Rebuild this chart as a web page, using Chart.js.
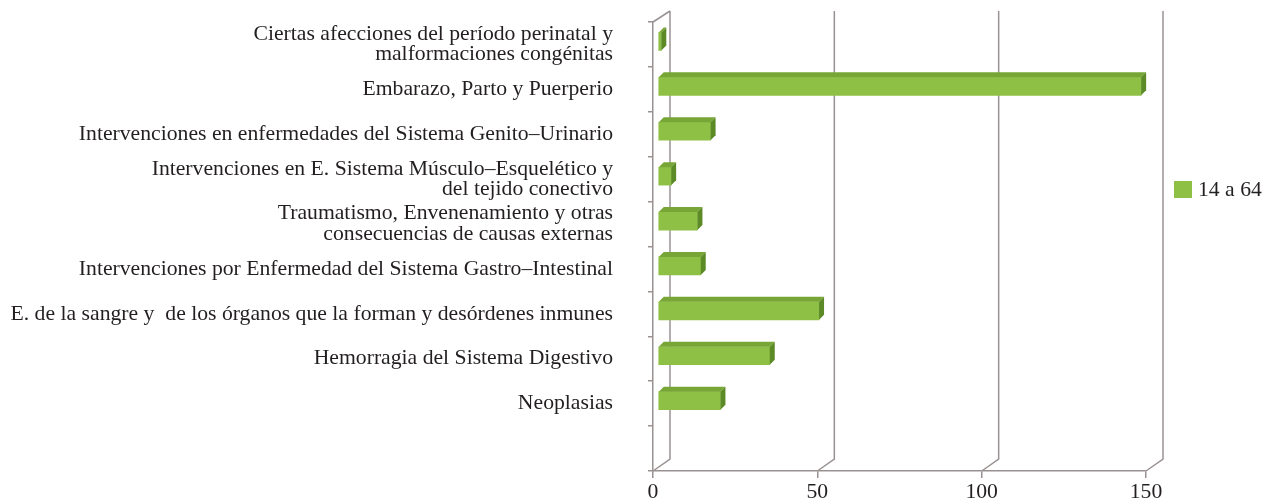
<!DOCTYPE html>
<html>
<head>
<meta charset="utf-8">
<script src="https://cdn.jsdelivr.net/npm/chart.js@4/dist/chart.umd.min.js"></script>
<style>
  html, body { margin: 0; padding: 0; background: #fff; }
  #wrap { width: 1271px; height: 504px; }
</style>
</head>
<body>
<div id="wrap"><canvas id="barChart"></canvas></div>
<script>
// categorias (de arriba a abajo), la ultima fila queda vacia
const categories = [
  ['Ciertas afecciones del período perinatal y', 'malformaciones congénitas'],
  'Embarazo, Parto y Puerperio',
  'Intervenciones en enfermedades del Sistema Genito–Urinario',
  ['Intervenciones en E. Sistema Músculo–Esquelético y', 'del tejido conectivo'],
  ['Traumatismo, Envenenamiento y otras', 'consecuencias de causas externas'],
  'Intervenciones por Enfermedad del Sistema Gastro–Intestinal',
  'E. de la sangre y  de los órganos que la forman y desórdenes inmunes',
  'Hemorragia del Sistema Digestivo',
  'Neoplasias',
  ''
];
const values = [1, 147, 16, 4, 12, 13, 49, 34, 19, null];
const xTicks = [0, 50, 100, 150];
const seriesName = '14 a 64';

const green = '#8fc046';
const greenTop = '#77a637';
const greenSide = '#5b8a26';
const lineGray = '#9a9292';
const textColor = '#231f20';
const font = { family: "'Liberation Serif', 'DejaVu Serif', serif", size: 21.7, lineHeight: 0.95 };

// fondo 3D: lineas de la pared trasera y barras con cara superior/lateral
const depthX = 17, depthY = 12;   // pared trasera
const barDX = 5, barDY = 5;       // profundidad de barra
const fake3d = {
  id: 'fake3d',
  beforeDatasetsDraw(chart) {
    const ctx = chart.ctx;
    const area = chart.chartArea;
    const x = chart.scales.x;
    ctx.save();
    ctx.strokeStyle = lineGray;
    ctx.lineWidth = 1.5;
    xTicks.forEach(v => {
      let px = x.getPixelForValue(v);
      ctx.beginPath();
      ctx.moveTo(px + depthX, area.top - 11);
      ctx.lineTo(px + depthX, area.bottom - depthY);
      ctx.lineTo(px, area.bottom);
      ctx.stroke();
    });
    // esquina superior
    ctx.beginPath();
    ctx.moveTo(area.left, area.top);
    ctx.lineTo(area.left + depthX, area.top - 11);
    ctx.stroke();
    ctx.restore();

    // las barras van al medio de la profundidad
    ctx.save();
    ctx.translate(5, -3);
  },
  afterDatasetsDraw(chart) {
    const ctx = chart.ctx;
    const meta = chart.getDatasetMeta(0);
    meta.data.forEach((el, i) => {
      if (values[i] == null) return;
      let top = el.y - el.height / 2;
      let bottom = el.y + el.height / 2;
      ctx.fillStyle = greenTop;
      ctx.beginPath();
      ctx.moveTo(el.base, top);
      ctx.lineTo(el.x, top);
      ctx.lineTo(el.x + barDX, top - barDY);
      ctx.lineTo(el.base + barDX, top - barDY);
      ctx.closePath();
      ctx.fill();
      ctx.fillStyle = greenSide;
      ctx.beginPath();
      ctx.moveTo(el.x, top);
      ctx.lineTo(el.x + barDX, top - barDY);
      ctx.lineTo(el.x + barDX, bottom - barDY);
      ctx.lineTo(el.x, bottom);
      ctx.closePath();
      ctx.fill();
    });
    ctx.restore();
  },
  afterDraw(chart) {
    // leyenda a la derecha
    const ctx = chart.ctx;
    const area = chart.chartArea;
    let lx = area.right + 28;
    let ly = area.top + 167;
    ctx.save();
    ctx.fillStyle = green;
    ctx.fillRect(lx, ly - 8, 18, 17);
    ctx.fillStyle = textColor;
    ctx.font = font.size + 'px ' + font.family;
    ctx.textBaseline = 'middle';
    ctx.fillText(chart.data.datasets[0].label, lx + 24, ly + 1);
    ctx.restore();
  }
};

const ctx = document.getElementById('barChart').getContext('2d');
const barChart = new Chart(ctx, {
  type: 'bar',
  data: {
    labels: categories,
    datasets: [{
      label: seriesName,
      data: values,
      backgroundColor: green,
      borderWidth: 0,
      barThickness: 18
    }]
  },
  options: {
    indexAxis: 'y',
    responsive: true,
    maintainAspectRatio: false,
    animation: false,
    layout: { padding: { top: 22, right: 125, left: 0, bottom: 0 } },
    plugins: {
      legend: { display: false },
      tooltip: { enabled: false }
    },
    scales: {
      x: {
        min: 0,
        max: 150,
        afterBuildTicks: s => { s.ticks = xTicks.map(v => ({ value: v })); },
        afterFit: s => { s.height = 33; s.paddingLeft = 0; s.paddingRight = 0; },
        grid: { drawOnChartArea: false, tickLength: 7, color: lineGray, lineWidth: 1.5 },
        border: { display: true, color: lineGray, width: 1.5 },
        ticks: { color: textColor, font: font, padding: 4, maxRotation: 0 }
      },
      y: {
        afterFit: s => { s.width = 653; s.paddingTop = 0; s.paddingBottom = 0; },
        grid: { drawOnChartArea: false, tickLength: 5, color: lineGray, lineWidth: 1.5 },
        border: { display: true, color: lineGray, width: 1.5 },
        ticks: { color: textColor, font: font, padding: 35, autoSkip: false }
      }
    }
  },
  plugins: [fake3d]
});
</script>
</body>
</html>
